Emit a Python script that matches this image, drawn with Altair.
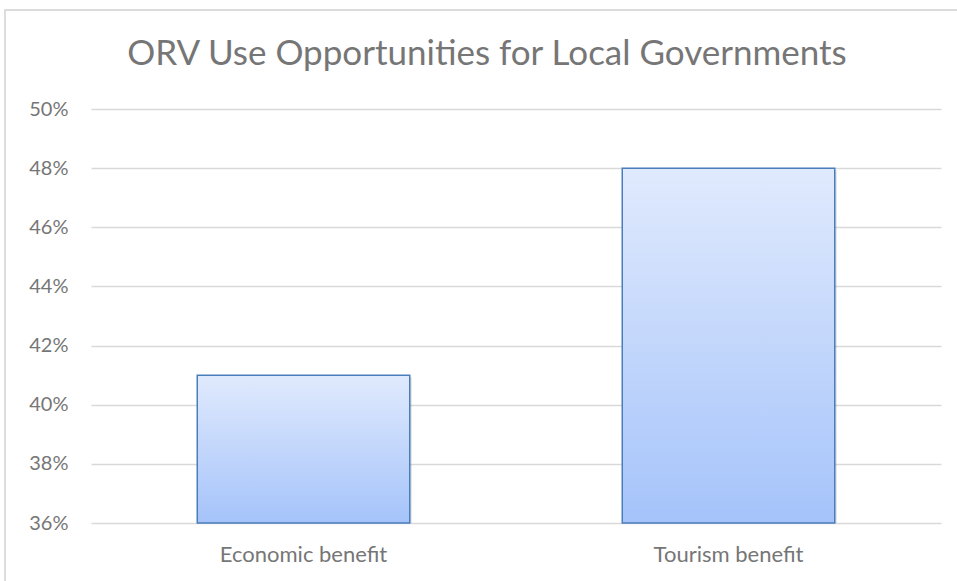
import altair as alt
import pandas as pd

categories = ["Economic benefit", "Tourism benefit"]
values = [0.41, 0.48]
tick_values = [0.36, 0.38, 0.40, 0.42, 0.44, 0.46, 0.48, 0.50]
title_text = ["ORV Use Opportunities for Local Governments"]

df = pd.DataFrame({"category": categories, "value": values})
tdf = pd.DataFrame({"title": title_text})

FONT = "Lato"
GRAY = "#767676"

x_enc = alt.X(
    "category:N",
    sort=categories,
    scale=alt.Scale(paddingInner=0.5, paddingOuter=0.25),
    axis=alt.Axis(title=None, labelAngle=0, domain=False, ticks=False,
                  labelFont=FONT, labelFontSize=22, labelColor=GRAY,
                  labelPadding=21, grid=False),
)
y_enc = alt.Y(
    "value:Q",
    scale=alt.Scale(domain=[0.36, 0.50], zero=False, nice=False),
    axis=alt.Axis(title=None, values=tick_values, format=".0%", domain=False,
                  ticks=False, labelFont=FONT, labelFontSize=20,
                  labelColor=GRAY, labelPadding=23, gridColor="#d9d9d9",
                  gridWidth=1.3),
)

border = alt.Chart(df).mark_rect(
    fill=None, stroke="#d9d9d9", strokeWidth=1.3, clip=False
).encode(
    x=alt.value(-86), x2=alt.value(880), y=alt.value(-99), y2=alt.value(490)
)

title = alt.Chart(tdf).mark_text(
    font=FONT, fontSize=35, color=GRAY, align="center", baseline="alphabetic",
    clip=False,
).encode(text="title:N", x=alt.value(396), y=alt.value(-44))

shadow = alt.Chart(df).mark_bar(
    color="#000000", opacity=0.12, xOffset=2, yOffset=2
).encode(x=x_enc, y=y_enc, y2=alt.datum(0.36))

bars = alt.Chart(df).mark_bar(
    color=alt.Gradient(
        gradient="linear",
        stops=[alt.GradientStop(color="#e0eafd", offset=0),
               alt.GradientStop(color="#a5c3fa", offset=1)],
        x1=0, x2=0, y1=0, y2=1,
    ),
    stroke="#4a7ebb", strokeWidth=1.5,
).encode(x=x_enc, y=y_enc, y2=alt.datum(0.36))

chart = alt.layer(border, title, shadow, bars).properties(
    width=850, height=414,
    padding={"left": 91, "top": 109, "right": 16, "bottom": 58},
    autosize=alt.AutoSizeParams(type="none"),
    background="white",
).configure_view(stroke=None)

chart.save("out.html", embed_options={"renderer": "svg", "actions": False})
